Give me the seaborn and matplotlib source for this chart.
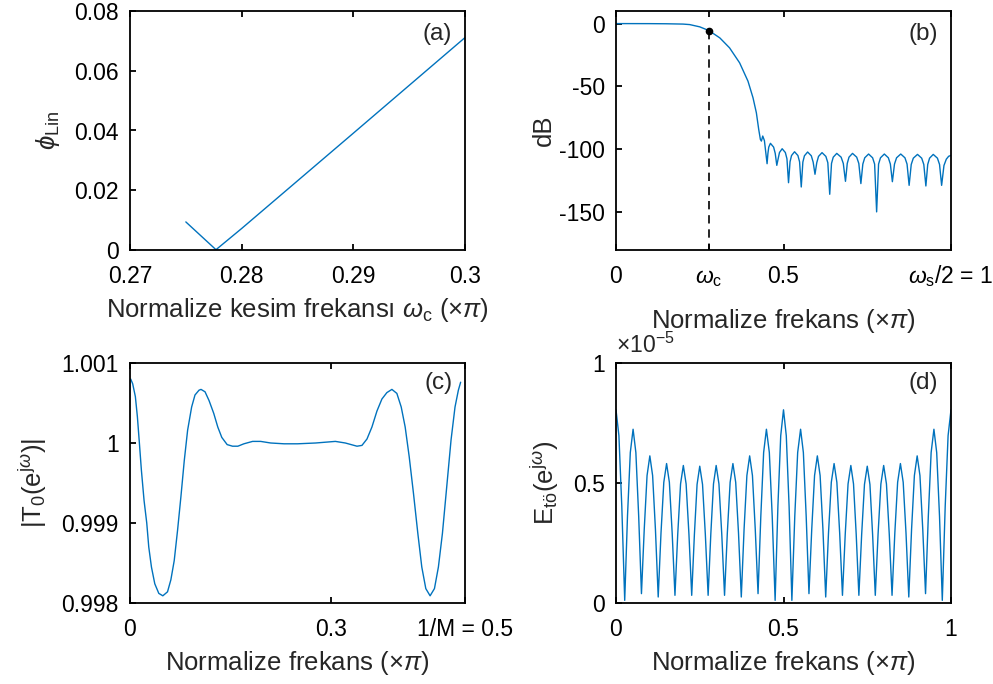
import numpy as np
import pandas as pd
import matplotlib
matplotlib.use("Agg")
import matplotlib.pyplot as plt
import seaborn as sns

# ---------------- data ----------------
# (a) linear-phase error vs cut-off frequency
a_wc = [0.275, 0.2777, 0.28, 0.29, 0.30]
a_phi = [0.0094, 0.0001, 0.0072, 0.0391, 0.0711]

# (b) magnitude response in dB
b_freq = [0.0, 0.10, 0.15, 0.20, 0.22, 0.25, 0.2777, 0.31, 0.339, 0.369, 0.394, 0.409, 0.419, 0.426,
          0.431, 0.434, 0.438, 0.443,
          0.451, 0.4535, 0.456, 0.461, 0.4705, 0.4753,
          0.480, 0.484, 0.488, 0.496, 0.5055, 0.5103,
          0.515, 0.5195, 0.524, 0.533, 0.543, 0.548,
          0.553, 0.5578, 0.5625, 0.572, 0.583, 0.5885,
          0.594, 0.5993, 0.6045, 0.615, 0.6265, 0.6323,
          0.638, 0.6433, 0.6485, 0.659, 0.672, 0.6785,
          0.685, 0.6903, 0.6955, 0.706, 0.7185, 0.7248,
          0.731, 0.7368, 0.7425, 0.754, 0.766, 0.772,
          0.778, 0.7838, 0.7895, 0.801, 0.813, 0.819,
          0.825, 0.8313, 0.8375, 0.850, 0.8625, 0.8688,
          0.875, 0.8813, 0.8875, 0.900, 0.9125, 0.9188,
          0.925, 0.9305, 0.936, 0.947, 0.9595, 0.9658,
          0.972, 0.979, 0.986, 0.993, 1.0]
b_db = [0.0, -0.05, -0.15, -0.4, -0.8, -2.6, -5.6, -11.4, -19.3, -31.2, -45.8, -59.0, -70.9, -84.1,
        -92.1, -93.4, -89.4, -93.0,
        -111.4, -103.2, -98.2, -95.2, -98.2, -103.2,
        -112.7, -107.5, -102.5, -99.5, -102.5, -107.5,
        -126.5, -109.9, -104.9, -101.9, -104.9, -109.9,
        -129.9, -110.1, -105.1, -102.1, -105.1, -110.1,
        -119.8, -110.6, -105.6, -102.6, -105.6, -110.6,
        -135.7, -111.2, -106.2, -103.2, -106.2, -111.2,
        -125.4, -111.2, -106.2, -103.2, -106.2, -111.2,
        -127.2, -111.7, -106.7, -103.7, -106.7, -111.7,
        -149.7, -111.7, -106.7, -103.7, -106.7, -111.7,
        -125.7, -111.7, -106.7, -103.7, -106.7, -111.7,
        -128.6, -112.0, -107.0, -104.0, -107.0, -112.0,
        -129.1, -112.0, -107.0, -104.0, -107.0, -112.0,
        -128.6, -112.8, -107.8, -105.5, -104.8]
b_wc = 0.2777
b_wc_db = -5.6
b_tick_vals = [0.0, 0.2777, 0.5, 1.0]
b_tick_labels = ["0", r"$\omega_{\mathrm{c}}$", "0.5", r"$\omega_{\mathrm{s}}$/2 = 1"]

# (c) distortion magnitude |T0|
c_freq = [0.001, 0.004, 0.008, 0.011, 0.014, 0.017, 0.021, 0.025, 0.028, 0.032, 0.037, 0.043, 0.049,
          0.056, 0.061, 0.066, 0.071, 0.076, 0.081, 0.086, 0.092, 0.097, 0.103, 0.106, 0.112, 0.118,
          0.125, 0.131, 0.137, 0.145, 0.153, 0.161, 0.170, 0.183, 0.195, 0.210, 0.230, 0.250, 0.277,
          0.3065, 0.3214, 0.3388, 0.3462, 0.3537, 0.3611, 0.3686, 0.376, 0.3834, 0.3909, 0.3983,
          0.4048, 0.4107, 0.4167, 0.4231, 0.4296, 0.4355, 0.4415, 0.4479, 0.4544, 0.4603, 0.4663,
          0.4727, 0.4792, 0.4851, 0.4901, 0.4935]
c_mag = [1.00080, 1.00074, 1.00058, 1.00033, 1.00000, 0.99966, 0.99928, 0.99900, 0.99870, 0.99845,
         0.99824, 0.99812, 0.99809, 0.99814, 0.99829, 0.99853, 0.99891, 0.99933, 0.99978, 1.00016,
         1.00045, 1.00060, 1.00066, 1.00067, 1.00064, 1.00053, 1.00037, 1.00020, 1.00007, 0.99998,
         0.99996, 0.99996, 0.99999, 1.00002, 1.00002, 1.00000, 0.99999, 0.99999, 1.00000,
         1.00002, 1.00000, 0.99996, 0.99997, 1.00005, 1.00020, 1.00040, 1.00055, 1.00063, 1.00067,
         1.00062, 1.00045, 1.00020, 0.99983, 0.99937, 0.99887, 0.99845, 0.99818, 0.99809, 0.99818,
         0.99845, 0.99887, 0.99945, 1.00004, 1.00045, 1.00066, 1.00076]
c_tick_vals = [0.0, 0.3, 0.5]
c_tick_labels = ["0", "0.3", "1/M = 0.5"]

# (d) aliasing error (x 1e-5)
d_freq = [0.0, 0.0087, 0.0173, 0.026, 0.0343, 0.0427, 0.051, 0.0593, 0.0677, 0.076, 0.0843, 0.0927,
          0.101, 0.1093, 0.1177, 0.126, 0.1343, 0.1427, 0.151, 0.1593, 0.1677, 0.176, 0.1843, 0.1927,
          0.201, 0.2093, 0.2177, 0.226, 0.234, 0.242, 0.25, 0.2583, 0.2667, 0.275, 0.283, 0.291,
          0.299, 0.3073, 0.3157, 0.324, 0.3323, 0.3407, 0.349, 0.3573, 0.3657, 0.374, 0.3823, 0.3907,
          0.399, 0.4073, 0.4157, 0.424, 0.4323, 0.4407, 0.449, 0.4577, 0.4663, 0.475, 0.4833, 0.4917,
          0.5, 0.5083, 0.5167, 0.525, 0.5337, 0.5423, 0.551, 0.5593, 0.5677, 0.576, 0.5843, 0.5927,
          0.601, 0.6093, 0.6177, 0.626, 0.6343, 0.6427, 0.651, 0.6593, 0.6677, 0.676, 0.6843, 0.6927,
          0.701, 0.709, 0.717, 0.725, 0.7333, 0.7417, 0.75, 0.758, 0.766, 0.774, 0.7823, 0.7907,
          0.799, 0.8073, 0.8157, 0.824, 0.8323, 0.8407, 0.849, 0.8573, 0.8657, 0.874, 0.8823, 0.8907,
          0.899, 0.9073, 0.9157, 0.924, 0.9323, 0.9407, 0.949, 0.9573, 0.9657, 0.974, 0.9827, 0.9913,
          1.0]
d_err = [0.805, 0.697, 0.403, 0.011, 0.362, 0.627, 0.724, 0.627, 0.362, 0.039, 0.307, 0.531,
         0.613, 0.531, 0.307, 0.025, 0.291, 0.503, 0.581, 0.503, 0.291, 0.032, 0.287, 0.496,
         0.573, 0.496, 0.287, 0.032, 0.285, 0.494, 0.570, 0.494, 0.285, 0.032, 0.287, 0.496,
         0.573, 0.496, 0.287, 0.032, 0.291, 0.503, 0.581, 0.503, 0.291, 0.025, 0.307, 0.531,
         0.613, 0.531, 0.307, 0.039, 0.362, 0.627, 0.724, 0.627, 0.362, 0.011, 0.403, 0.697,
         0.805, 0.697, 0.403, 0.011, 0.362, 0.627, 0.724, 0.627, 0.362, 0.039, 0.307, 0.531,
         0.613, 0.531, 0.307, 0.025, 0.291, 0.503, 0.581, 0.503, 0.291, 0.032, 0.287, 0.496,
         0.573, 0.496, 0.287, 0.032, 0.285, 0.494, 0.570, 0.494, 0.285, 0.032, 0.287, 0.496,
         0.573, 0.496, 0.287, 0.032, 0.291, 0.503, 0.581, 0.503, 0.291, 0.025, 0.307, 0.531,
         0.613, 0.531, 0.307, 0.039, 0.362, 0.627, 0.724, 0.627, 0.362, 0.011, 0.403, 0.697,
         0.805]

# ---------------- style ----------------
sns.set_theme(style="ticks")
TS = 16.5   # tick labels
LS = 18.5   # axis labels
PS = 17.5   # panel letters
plt.rcParams.update({
    "font.family": ["Liberation Sans", "DejaVu Sans"],
    "mathtext.fontset": "custom",
    "mathtext.rm": "Liberation Sans",
    "mathtext.it": "Liberation Sans:italic",
    "mathtext.sf": "Liberation Sans",
    "mathtext.bf": "Liberation Sans:bold",
    "axes.linewidth": 1.3,
    "axes.edgecolor": "black",
    "xtick.direction": "in",
    "ytick.direction": "in",
    "xtick.major.size": 4,
    "ytick.major.size": 4,
    "xtick.major.width": 1.3,
    "ytick.major.width": 1.3,
    "xtick.top": True,
    "ytick.right": False,
    "xtick.color": "black",
    "ytick.color": "black",
    "xtick.labelsize": TS,
    "ytick.labelsize": TS,
    "axes.labelsize": LS,
    "xtick.major.pad": 23.5,
    "ytick.major.pad": 8,
    "axes.labelpad": 6,
})

BLUE = "#0072BD"

fig = plt.figure(figsize=(9.93, 6.84), dpi=100)
W, H = 993.0, 684.0
def add_ax(l, t, r, b):
    return fig.add_axes([l / W, 1 - b / H, (r - l) / W, (b - t) / H])

ax_a = add_ax(130, 11, 465, 250)
ax_b = add_ax(616, 11, 951, 250)
ax_c = add_ax(130, 363, 465, 603)
ax_d = add_ax(616, 363, 951, 603)

def style(ax):
    for s in ax.spines.values():
        s.set_visible(True)
        s.set_color("black")
    ax.tick_params(which="both", top=True, right=False, labelcolor="black")
    for lab in ax.get_xticklabels():
        lab.set_verticalalignment("baseline")

# (a)
dfa = pd.DataFrame({"wc": a_wc, "phi": a_phi})
sns.lineplot(data=dfa, x="wc", y="phi", ax=ax_a, color=BLUE, lw=1.0, sort=False, estimator=None)
ax_a.set_xlim(0.27, 0.30)
ax_a.set_ylim(0, 0.08)
ax_a.set_xticks([0.27, 0.28, 0.29, 0.30])
ax_a.set_xticklabels(["0.27", "0.28", "0.29", "0.3"])
ax_a.set_yticks([0, 0.02, 0.04, 0.06, 0.08])
ax_a.set_yticklabels(["0", "0.02", "0.04", "0.06", "0.08"])
ax_a.set_xlabel(r"Normalize kesim frekansı $\omega_{\mathrm{c}}$ ($\times\pi$)", fontsize=LS)
ax_a.set_ylabel(r"$\phi_{\mathrm{Lin}}$", fontsize=LS)
ax_a.text(0.962, 0.905, "(a)", transform=ax_a.transAxes, ha="right", va="center", fontsize=PS)

# (b)
dfb = pd.DataFrame({"f": b_freq, "db": b_db})
ax_b.plot([b_wc, b_wc], [b_wc_db, -180], color="black", lw=1.2, ls=(0, (5, 3.5)))
sns.lineplot(data=dfb, x="f", y="db", ax=ax_b, color=BLUE, lw=1.0, sort=False, estimator=None)
ax_b.plot([b_wc], [b_wc_db], "o", color="black", ms=4.5)
ax_b.set_xlim(0, 1)
ax_b.set_ylim(-180, 10)
ax_b.set_xticks(b_tick_vals)
ax_b.set_xticklabels(b_tick_labels)
ax_b.set_yticks([0, -50, -100, -150])
ax_b.set_yticklabels(["0", "-50", "-100", "-150"])
ax_b.set_xlabel(r"Normalize frekans ($\times\pi$)", fontsize=LS, labelpad=13)
ax_b.set_ylabel("dB", fontsize=LS)
ax_b.text(0.962, 0.905, "(b)", transform=ax_b.transAxes, ha="right", va="center", fontsize=PS)

# (c)
dfc = pd.DataFrame({"f": c_freq, "m": c_mag})
sns.lineplot(data=dfc, x="f", y="m", ax=ax_c, color=BLUE, lw=1.0, sort=False, estimator=None)
ax_c.set_xlim(0, 0.5)
ax_c.set_ylim(0.998, 1.001)
ax_c.set_xticks(c_tick_vals)
ax_c.set_xticklabels(c_tick_labels)
ax_c.set_yticks([0.998, 0.999, 1.0, 1.001])
ax_c.set_yticklabels(["0.998", "0.999", "1", "1.001"])
ax_c.set_xlabel(r"Normalize frekans ($\times\pi$)", fontsize=LS)
ax_c.set_ylabel(r"|T$_0$(e$^{\mathrm{j}\omega}$)|", fontsize=LS)
ax_c.text(0.962, 0.917, "(c)", transform=ax_c.transAxes, ha="right", va="center", fontsize=PS)

# (d)
dfd = pd.DataFrame({"f": d_freq, "e": d_err})
sns.lineplot(data=dfd, x="f", y="e", ax=ax_d, color=BLUE, lw=1.0, sort=False, estimator=None)
ax_d.set_xlim(0, 1)
ax_d.set_ylim(0, 1)
ax_d.set_xticks([0, 0.5, 1])
ax_d.set_xticklabels(["0", "0.5", "1"])
ax_d.set_yticks([0, 0.5, 1])
ax_d.set_yticklabels(["0", "0.5", "1"])
ax_d.set_xlabel(r"Normalize frekans ($\times\pi$)", fontsize=LS)
ax_d.set_ylabel(r"E$_{\mathrm{tö}}$(e$^{\mathrm{j}\omega}$)", fontsize=LS)
ax_d.text(0.962, 0.917, "(d)", transform=ax_d.transAxes, ha="right", va="center", fontsize=PS)
ax_d.text(0.0, 1.02, r"$\times$10$^{-5}$", transform=ax_d.transAxes, ha="left", va="bottom", fontsize=TS)

for ax in (ax_a, ax_b, ax_c, ax_d):
    style(ax)

# label positions (axes coords; x = right edge of rotated label)
ax_a.yaxis.set_label_coords(-0.203, 0.5)
ax_b.yaxis.set_label_coords(-0.179, 0.5)
ax_c.yaxis.set_label_coords(-0.242, 0.5)
ax_d.yaxis.set_label_coords(-0.164, 0.5)

fig.savefig("out.png", dpi=100)
